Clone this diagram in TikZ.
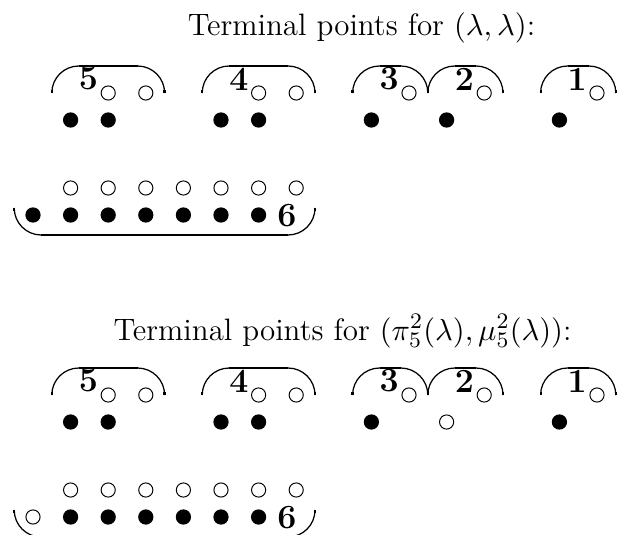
\documentclass[tikz,border=0pt]{standalone}
\begin{document}
\begin{tikzpicture}[x=0.36pt,y=-0.36pt,
  odot/.style={circle,draw,line width=0.35pt,inner sep=0pt,minimum size=5.1pt},
  fdot/.style={circle,fill,inner sep=0pt,minimum size=5.5pt},
  arcline/.style={line width=0.45pt},
  barline/.style={line width=1.0pt},
  stub/.style={line width=0.8pt},
  lab/.style={font=\fontsize{12.2}{14}\selectfont\bfseries, inner sep=0pt},
  ttl/.style={font=\fontsize{11.15}{13}\selectfont, anchor=base, inner sep=0pt}]
\useasboundingbox (0,0) rectangle (622,534);
\clip (0,0) rectangle (622,534);
% ---------- block A ----------
\node[ttl] (tA) at (361.5,36) {Terminal points for $(\lambda,\lambda)$:};
\foreach \l/\r/\lx/\nm in {0.5/3.5/1.5/5, 4.5/7.5/5.5/4, 8.5/10.5/9.5/3, 10.5/12.5/11.5/2, 13.5/15.5/14.5/1}{
  \draw[arcline] ({33+37.6*\l},93) .. controls ({33+37.6*\l},78.1) and ({33+37.6*\l+12.1},66) .. ({33+37.6*\l+27},66)
     -- ({33+37.6*\r-27},66) .. controls ({33+37.6*\r-12.1},66) and ({33+37.6*\r},78.1) .. ({33+37.6*\r},93);
  \draw[barline] ({33+37.6*\l+27},66) -- ({33+37.6*\r-27},66);
  \draw[stub] ({33+37.6*\l},90) -- ({33+37.6*\l},93);
  \draw[stub] ({33+37.6*\r},90) -- ({33+37.6*\r},93);
  \node[lab] (Al\nm) at ({33+37.6*\lx-1},79) {\nm};
}
\foreach \k in {1,2,5,6,9,11,14}{\node[fdot] (Af\k) at ({33+37.6*\k},120) {};}
\foreach \k in {2,3,6,7,10,12,15}{\node[odot] (Ao\k) at ({33+37.6*\k},93) {};}
% bottom box A
\draw[arcline] (14.2,208) .. controls (14.2,222.9) and (26.3,235) .. (41.2,235) -- (288,235)
   .. controls (302.9,235) and (315,222.9) .. (315,208);
\draw[barline] (41.2,235) -- (288,235);
\draw[stub] (14.2,208) -- (14.2,211);
\draw[stub] (315,208) -- (315,211);
\foreach \k in {1,...,7}{\node[odot] (Abo\k) at ({33+37.6*\k},188) {};}
\foreach \k in {0,...,6}{\node[fdot] (Abf\k) at ({33+37.6*\k},215) {};}
\node[lab] (Al6) at (287,216) {6};
% ---------- block B ----------
\begin{scope}[shift={(0,302)}]
\node[ttl] (tB) at (342.5,38) {Terminal points for $(\pi_5^2(\lambda),\mu_5^2(\lambda))$:};
\foreach \l/\r/\lx/\nm in {0.5/3.5/1.5/5, 4.5/7.5/5.5/4, 8.5/10.5/9.5/3, 10.5/12.5/11.5/2, 13.5/15.5/14.5/1}{
  \draw[arcline] ({33+37.6*\l},93) .. controls ({33+37.6*\l},78.1) and ({33+37.6*\l+12.1},66) .. ({33+37.6*\l+27},66)
     -- ({33+37.6*\r-27},66) .. controls ({33+37.6*\r-12.1},66) and ({33+37.6*\r},78.1) .. ({33+37.6*\r},93);
  \draw[barline] ({33+37.6*\l+27},66) -- ({33+37.6*\r-27},66);
  \draw[stub] ({33+37.6*\l},90) -- ({33+37.6*\l},93);
  \draw[stub] ({33+37.6*\r},90) -- ({33+37.6*\r},93);
  \node[lab] (Bl\nm) at ({33+37.6*\lx-1},79) {\nm};
}
\foreach \k in {1,2,5,6,9,14}{\node[fdot] (Bf\k) at ({33+37.6*\k},120) {};}
\node[odot] (Bx11) at ({33+37.6*11},120) {};
\foreach \k in {2,3,6,7,10,12,15}{\node[odot] (Bo\k) at ({33+37.6*\k},93) {};}
\draw[arcline] (14.2,208) .. controls (14.2,222.9) and (26.3,235) .. (41.2,235) -- (288,235)
   .. controls (302.9,235) and (315,222.9) .. (315,208);
\draw[barline] (41.2,235) -- (288,235);
\draw[stub] (14.2,208) -- (14.2,211);
\draw[stub] (315,208) -- (315,211);
\foreach \k in {1,...,7}{\node[odot] (Bbo\k) at ({33+37.6*\k},188) {};}
\node[odot] (Bbx0) at (33,215) {};
\foreach \k in {1,...,6}{\node[fdot] (Bbf\k) at ({33+37.6*\k},215) {};}
\node[lab] (Bl6) at (287,216) {6};
\end{scope}
\end{tikzpicture}
\end{document}
